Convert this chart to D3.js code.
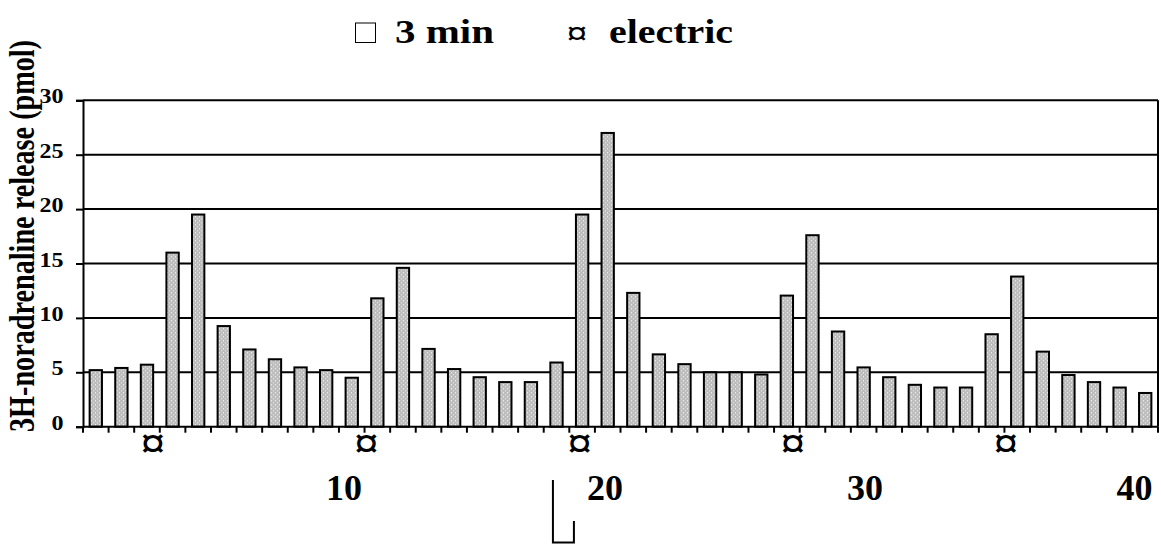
<!DOCTYPE html>
<html>
<head>
<meta charset="utf-8">
<script src="https://d3js.org/d3.v7.min.js"></script>
<style>
  body { margin: 0; background: #fff; }
  text { font-family: "Liberation Serif", "Times New Roman", serif; font-weight: bold; fill: #000; }
</style>
</head>
<body>
<div id="chart"></div>
<script>
var svgWidth = 1161;
var svgHeight = 545;

// fraction number on the x axis (1..42)
var fractions = d3.range(1, 43);

// 3H-noradrenaline release (pmol) per fraction
var release = [5.2, 5.4, 5.7, 16.0, 19.5, 9.25, 7.1, 6.2, 5.45, 5.2, 4.5, 11.8,
               14.6, 7.15, 5.3, 4.55, 4.1, 4.1, 5.9, 19.5, 27.0, 12.3, 6.65, 5.75,
               5.0, 5.0, 4.8, 12.05, 17.6, 8.75, 5.45, 4.55, 3.85, 3.6, 3.6, 8.5,
               13.8, 6.9, 4.75, 4.1, 3.6, 3.1];

var yTicks = [0, 5, 10, 15, 20, 25, 30];

// x labels and where they sit (in fraction units from the left edge)
var xLabels = ["10", "20", "30", "40"];
var xLabelPos = [10.2, 20.39, 30.55, 41.08];

// electric stimulation marks under the axis
var stimPos = [2.73, 11.07, 19.4, 27.73, 36.06];

// drug application marker (fraction units)
var drugPos = [18.36, 19.18];

var margin = { top: 100.3, right: 3, bottom: 118.3, left: 83 };
var chartWidth = svgWidth - margin.left - margin.right;
var chartHeight = svgHeight - margin.top - margin.bottom;

var svg = d3.select('#chart').append('svg')
    .attr('width', svgWidth)
    .attr('height', svgHeight);

// stipple fill for bars
var defs = svg.append('defs');
var pat = defs.append('pattern')
    .attr('id', 'stipple')
    .attr('patternUnits', 'userSpaceOnUse')
    .attr('width', 4)
    .attr('height', 4);
pat.append('rect').attr('width', 4).attr('height', 4).attr('fill', '#bdbdbd');
pat.append('rect').attr('x', 0).attr('y', 0).attr('width', 1).attr('height', 1).attr('fill', '#ffffff');
pat.append('rect').attr('x', 2).attr('y', 2).attr('width', 1).attr('height', 1).attr('fill', '#e8e8e8');

var chartGroup = svg.append('g')
    .attr('transform', `translate(${margin.left}, ${margin.top})`);

var xBand = d3.scaleBand()
    .domain(fractions)
    .range([0, chartWidth])
    .paddingInner(0.44)
    .paddingOuter(0.22);

// continuous scale in fraction units for annotations
var xPos = d3.scaleLinear()
    .domain([0, fractions.length])
    .range([0, chartWidth]);

var yLinearScale = d3.scaleLinear()
    .domain([0, 30])
    .range([chartHeight, 0]);

// gridlines
chartGroup.selectAll('.grid')
    .data(yTicks.filter(d => d > 0))
    .enter()
    .append('line')
    .attr('x1', 0)
    .attr('x2', chartWidth)
    .attr('y1', d => yLinearScale(d))
    .attr('y2', d => yLinearScale(d))
    .attr('stroke', '#000')
    .attr('stroke-width', 2);

// right border
chartGroup.append('line')
    .attr('x1', chartWidth).attr('x2', chartWidth)
    .attr('y1', 0).attr('y2', chartHeight)
    .attr('stroke', '#000')
    .attr('stroke-width', 2);

// bars
chartGroup.selectAll('.bar')
    .data(release)
    .enter()
    .append('rect')
    .attr('x', (d, i) => xBand(fractions[i]) + 1)
    .attr('y', d => yLinearScale(d))
    .attr('width', xBand.bandwidth() - 2)
    .attr('height', d => chartHeight - yLinearScale(d))
    .attr('fill', 'url(#stipple)')
    .attr('stroke', '#000')
    .attr('stroke-width', 2);

// y axis
var leftAxis = d3.axisLeft(yLinearScale)
    .tickValues(yTicks)
    .tickSize(7)
    .tickFormat('');
var yAxis = chartGroup.append('g').call(leftAxis);
yAxis.select('.domain').attr('stroke-width', 2);
yAxis.selectAll('.tick line').attr('stroke-width', 2);

chartGroup.selectAll('.ylab')
    .data(yTicks)
    .enter()
    .append('text')
    .attr('transform', d => `translate(-19.5, ${yLinearScale(d) + 3}) scale(1.2, 1)`)
    .attr('text-anchor', 'end')
    .attr('font-size', '20px')
    .text(d => d);

// x axis: ticks on fraction boundaries
var xAxis = chartGroup.append('g')
    .attr('transform', `translate(0, ${chartHeight})`);
xAxis.append('line')
    .attr('x1', 0).attr('x2', chartWidth)
    .attr('stroke', '#000')
    .attr('stroke-width', 2);
xAxis.selectAll('.xtick')
    .data(d3.range(0, fractions.length + 1))
    .enter()
    .append('line')
    .attr('x1', d => xPos(d))
    .attr('x2', d => xPos(d))
    .attr('y1', 0)
    .attr('y2', 6)
    .attr('stroke', '#000')
    .attr('stroke-width', 2);

// stimulation marks
chartGroup.selectAll('.stim')
    .data(stimPos)
    .enter()
    .append('text')
    .attr('transform', d => `translate(${xPos(d)}, ${chartHeight + 31}) scale(1.1, 1)`)
    .attr('text-anchor', 'middle')
    .attr('font-size', '44px')
    .text('\u00a4');

// x labels
chartGroup.selectAll('.xlab')
    .data(xLabels)
    .enter()
    .append('text')
    .attr('x', (d, i) => xPos(xLabelPos[i]))
    .attr('y', chartHeight + 73.3)
    .attr('text-anchor', 'middle')
    .attr('font-size', '36px')
    .text(d => d);

// drug application marker
var mx0 = margin.left + xPos(drugPos[0]);
var mx1 = margin.left + xPos(drugPos[1]);
svg.append('path')
    .attr('d', `M${mx0},480 L${mx0},542.5 L${mx1},542.5 L${mx1},521`)
    .attr('fill', 'none')
    .attr('stroke', '#000')
    .attr('stroke-width', 2);

// y axis title
svg.append('text')
    .attr('transform', 'translate(34, 236) scale(1.25, 1) rotate(-90)')
    .attr('text-anchor', 'middle')
    .attr('font-size', '28px')
    .attr('textLength', 392)
    .attr('lengthAdjust', 'spacingAndGlyphs')
    .text('3H-noradrenaline release (pmol)');

// legend
var legend = svg.append('g');
legend.append('rect')
    .attr('x', 355.5)
    .attr('y', 23)
    .attr('width', 20)
    .attr('height', 19.5)
    .attr('fill', '#fff')
    .attr('stroke', '#000')
    .attr('stroke-width', 1);
legend.append('text')
    .attr('x', 395)
    .attr('y', 43.3)
    .attr('font-size', '34px')
    .attr('textLength', 99)
    .attr('lengthAdjust', 'spacingAndGlyphs')
    .text('3 min');
legend.append('text')
    .attr('transform', 'translate(577, 45) scale(1.2, 1)')
    .attr('text-anchor', 'middle')
    .attr('font-size', '34px')
    .text('\u00a4');
legend.append('text')
    .attr('x', 609)
    .attr('y', 43.3)
    .attr('font-size', '34px')
    .attr('textLength', 124)
    .attr('lengthAdjust', 'spacingAndGlyphs')
    .text('electric');
</script>
</body>
</html>
